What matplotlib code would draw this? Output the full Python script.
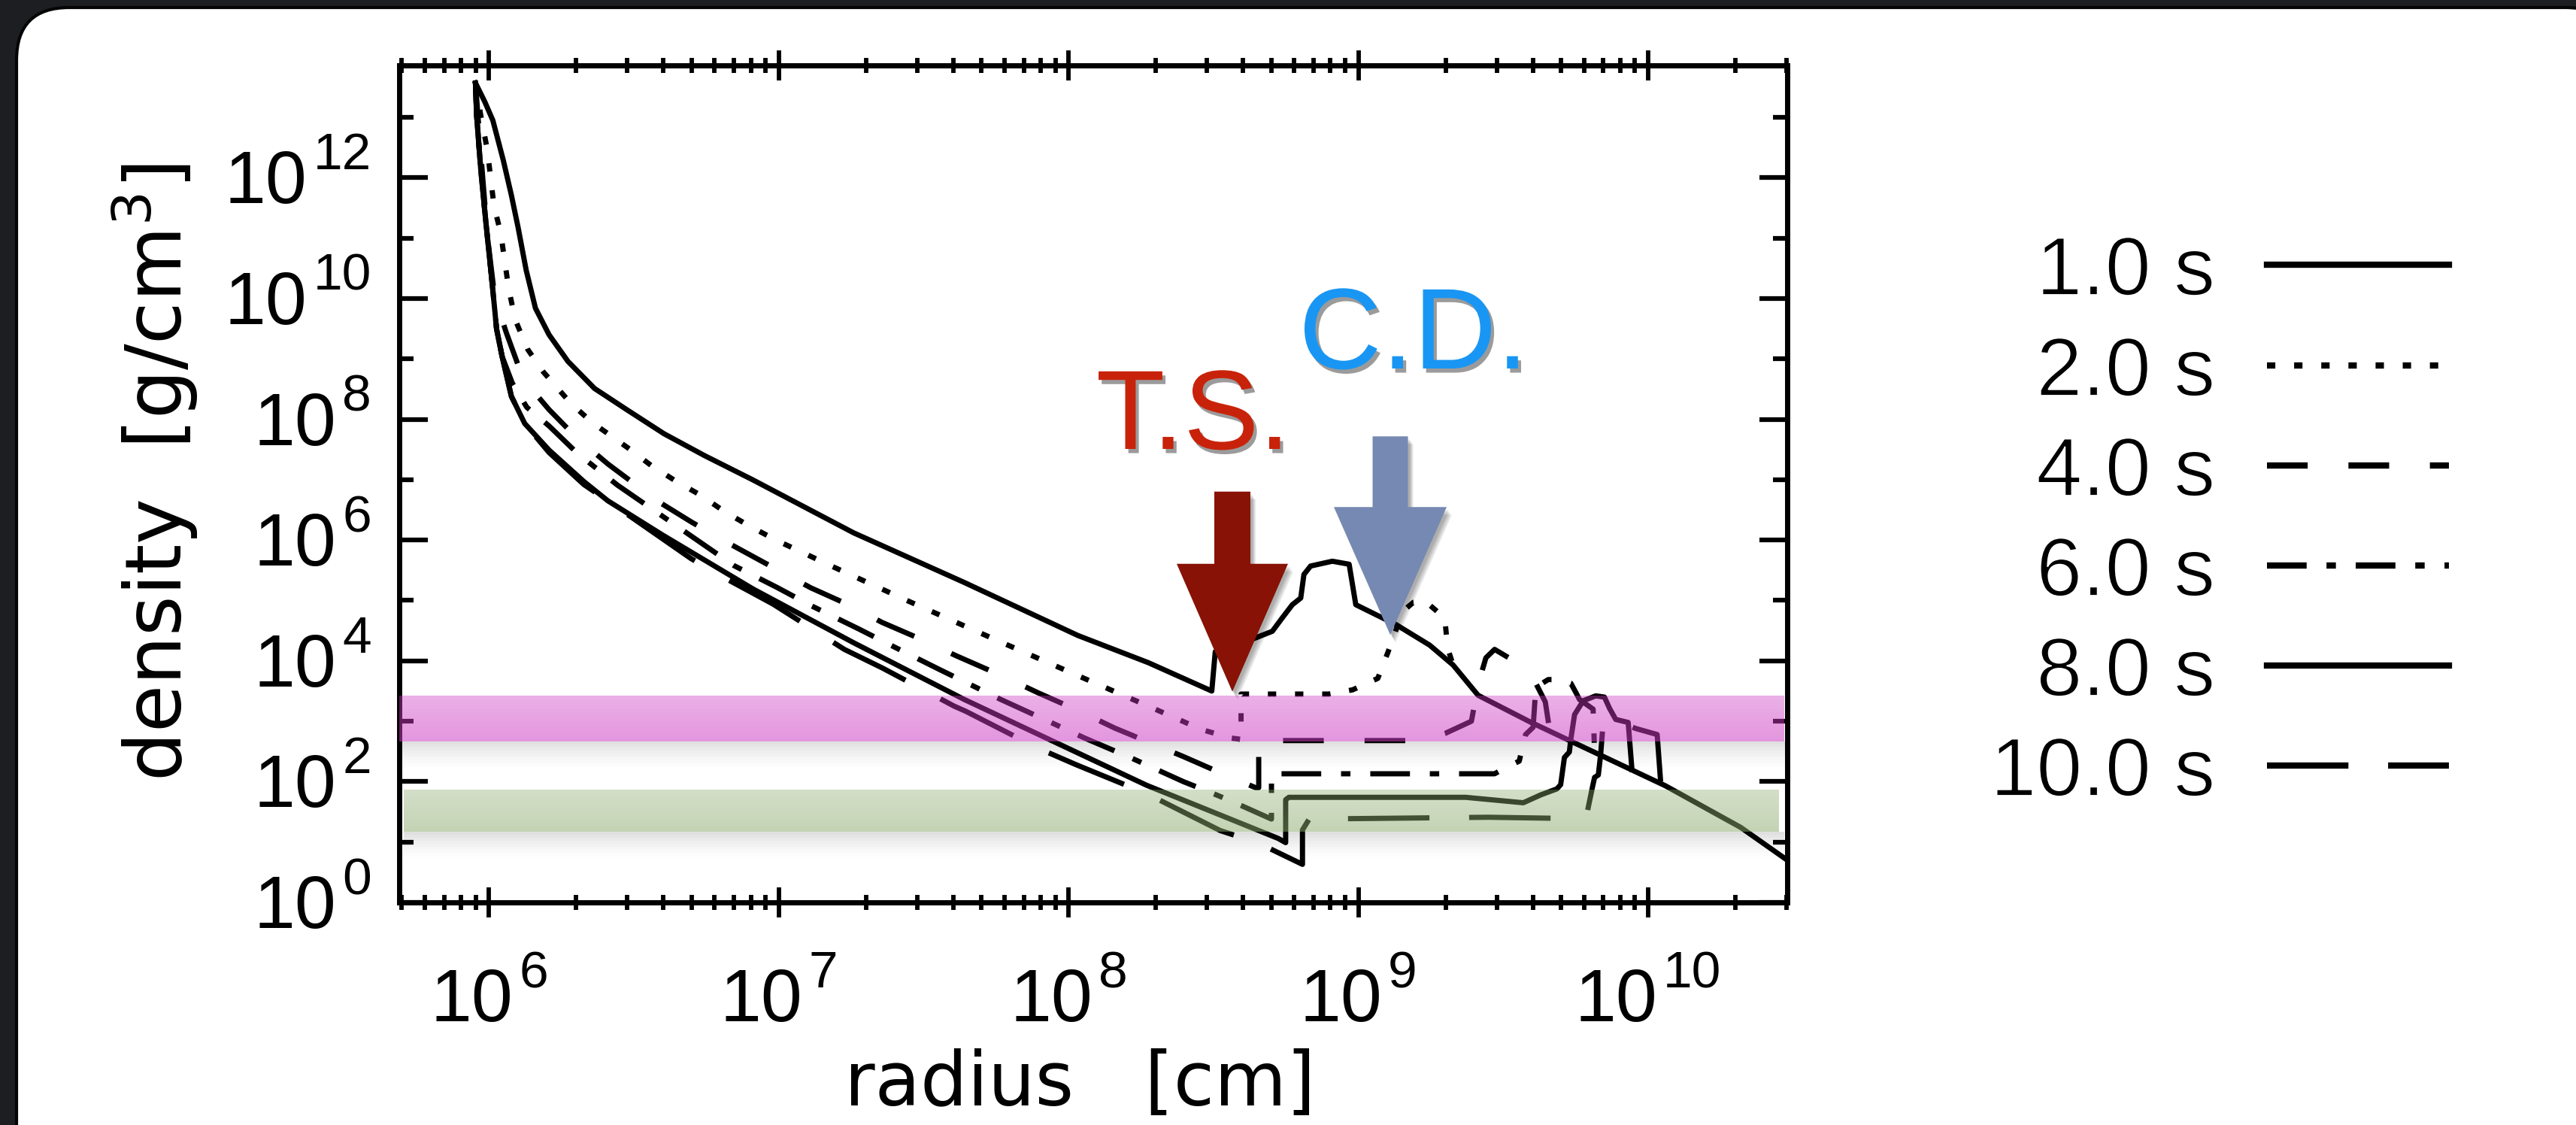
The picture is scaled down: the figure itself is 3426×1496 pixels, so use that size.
import numpy as np
import matplotlib
matplotlib.use("Agg")
import matplotlib.pyplot as plt
from matplotlib.patches import FancyBboxPatch, Polygon
from matplotlib.lines import Line2D
from matplotlib.transforms import IdentityTransform
from matplotlib.ticker import FixedLocator, LogLocator
import matplotlib.patheffects as pe

plt.rcParams['lines.scale_dashes'] = False

# ---- data: log10(radius [cm]) and log10(density [g/cm^3]) ----
t1_logr = [5.953, 5.985, 6.013, 6.049, 6.077, 6.100, 6.128, 6.160, 6.207, 6.272, 6.364, 6.475,
           6.604, 6.743, 6.909, 7.258, 7.639, 8.032, 8.275, 8.494, 8.506, 8.60, 8.645, 8.703,
           8.737, 8.772, 8.801, 8.812, 8.835, 8.910, 8.968, 8.991, 9.130, 9.246, 9.327, 9.413,
           9.592, 9.742, 10.06, 10.32, 10.48]
t1_logrho = [13.57, 13.26, 12.95, 12.29, 11.71, 11.18, 10.47, 9.84, 9.40, 8.96, 8.51, 8.16,
             7.76, 7.40, 7.00, 6.12, 5.30, 4.42, 3.97, 3.50, 4.15, 4.30, 4.38, 4.49,
             4.71, 4.93, 5.04, 5.43, 5.57, 5.65, 5.60, 4.93, 4.60, 4.26, 3.93, 3.43,
             2.99, 2.65, 1.93, 1.24, 0.70]

t2_logr = [5.953, 5.971, 5.994, 6.017, 6.040, 6.054, 6.068, 6.091, 6.133, 6.188, 6.281, 6.355,
           6.484, 6.558, 6.64, 6.731, 6.813, 6.896, 6.99, 7.177, 7.442, 7.743, 8.02, 8.275,
           8.46, 8.563, 8.595, 8.595, 8.898, 8.98, 9.067, 9.101, 9.153, 9.19, 9.23, 9.298,
           9.308, 9.327]
t2_logrho = [13.57, 13.04, 12.46, 11.53, 11.09, 10.62, 10.15, 9.64, 9.16, 8.78, 8.27, 7.95,
             7.51, 7.24, 6.99, 6.74, 6.47, 6.24, 6.00, 5.58, 5.00, 4.36, 3.78, 3.25,
             2.86, 2.72, 2.70, 3.45, 3.45, 3.52, 3.71, 4.13, 4.82, 4.97, 4.99, 4.71,
             4.21, 3.93]

t4_logr = [5.953, 5.962, 5.978, 5.995, 6.015, 6.035, 6.059, 6.10, 6.161, 6.207, 6.299, 6.41,
           6.58, 6.698, 6.822, 6.946, 7.11, 7.235, 7.356, 7.48, 7.614, 7.772, 7.895, 8.027,
           8.159, 8.396, 8.522, 8.645, 8.656, 8.656, 9.22, 9.30, 9.39, 9.415, 9.44, 9.47,
           9.586, 9.61, 9.645, 9.66]
t4_logrho = [13.57, 13.0, 12.0, 11.0, 10.2, 9.8, 9.44, 8.90, 8.42, 8.16, 7.71, 7.26,
             6.65, 6.30, 5.96, 5.636, 5.21, 4.94, 4.637, 4.38, 4.08, 3.748, 3.47, 3.19,
             2.887, 2.415, 2.15, 1.90, 1.90, 2.68, 2.68, 2.80, 3.00, 3.64, 4.05, 4.19,
             3.86, 3.65, 3.32, 2.85]

t6_logr = [5.953, 5.957, 5.971, 5.989, 6.008, 6.026, 6.045, 6.08, 6.13, 6.207, 6.304, 6.443,
           6.846, 6.992, 7.113, 7.275, 7.39, 7.553, 7.766, 7.93, 8.056, 8.217, 8.396, 8.48,
           8.56, 8.70, 8.70, 9.47, 9.50, 9.555, 9.577, 9.603, 9.61, 9.625, 9.655, 9.70,
           9.733, 9.75, 9.763, 9.81, 9.815]
t6_logrho = [13.57, 13.04, 12.15, 11.26, 10.38, 9.49, 9.04, 8.60, 8.20, 7.89, 7.44, 6.91,
             5.575, 5.22, 4.91, 4.53, 4.25, 3.86, 3.36, 3.00, 2.72, 2.39, 2.00, 1.84,
             1.68, 1.38, 2.13, 2.13, 2.21, 2.34, 2.78, 2.90, 3.40, 3.60, 3.69, 3.69,
             3.63, 3.48, 3.36, 3.20, 2.50]

t8_logr = [5.953, 5.957, 5.971, 5.989, 6.008, 6.026, 6.045, 6.077, 6.123, 6.207, 6.327, 6.41,
           6.60, 6.911, 7.258, 7.64, 8.269, 8.723, 8.749, 8.749, 8.76, 9.37, 9.569, 9.629,
           9.685, 9.698, 9.711, 9.728, 9.733, 9.746, 9.776, 9.819, 9.849, 9.867, 9.888, 9.931,
           9.944]
t8_logrho = [13.57, 13.04, 12.15, 11.26, 10.38, 9.49, 9.04, 8.38, 7.93, 7.49, 6.97, 6.65,
             6.08, 5.19, 4.30, 3.36, 1.94, 1.06, 0.99, 1.70, 1.74, 1.74, 1.65, 1.78,
             1.88, 1.95, 2.40, 2.49, 2.70, 3.11, 3.34, 3.42, 3.40, 3.21, 3.03, 2.98,
             2.20]

t10_logr = [5.953, 5.957, 5.971, 5.989, 6.008, 6.026, 6.045, 6.077, 6.123, 6.207, 6.327, 6.467,
            6.698, 6.822, 6.98, 7.226, 7.358, 7.605, 7.645, 7.894, 8.026, 8.27, 8.523, 8.656,
            8.807, 8.807, 8.83, 9.448, 9.72, 9.79, 9.806, 9.815, 9.828, 9.836, 9.84, 9.844,
            9.867, 9.888, 9.957, 10.031, 10.043]
t10_logrho = [13.57, 13.04, 12.15, 11.26, 10.38, 9.49, 9.04, 8.38, 7.93, 7.45, 6.92, 6.46,
              5.69, 5.35, 4.94, 4.19, 3.88, 3.25, 3.165, 2.555, 2.28, 1.80, 1.19, 0.98,
              0.63, 1.20, 1.38, 1.41, 1.39, 1.50, 1.87, 2.07, 2.11, 2.45, 2.69, 2.94,
              3.03, 3.01, 2.88, 2.78, 2.00]

labels = ['1.0 s', '2.0 s', '4.0 s', '6.0 s', '8.0 s', '10.0 s']
curves = [(t1_logr, t1_logrho), (t2_logr, t2_logrho), (t4_logr, t4_logrho),
          (t6_logr, t6_logrho), (t8_logr, t8_logrho), (t10_logr, t10_logrho)]
# IDL-like line styles (dash lengths in points)
styles = ['-', (0, (8, 18)), (0, (39, 39)), (0, (38, 19, 9, 19)), '-', (0, (78, 38))]

x_exps = [6, 7, 8, 9, 10]
y_exps = [0, 2, 4, 6, 8, 10, 12]

# shaded density bands and shock markers
MAG_BAND = (10**2.66, 10**3.42)
GRN_BAND = (10**1.17, 10**1.87)
TS_TIP = (10**8.565, 10**3.49)
CD_TIP = (10**9.110, 10**4.43)

W, H, DPI = 3426, 1496, 100
fig = plt.figure(figsize=(W / DPI, H / DPI), dpi=DPI)
fig.patch.set_facecolor('#1d1e21')
px = IdentityTransform()

# white slide card with rounded corners
card = FancyBboxPatch((22, -120), 3460, 1496 - 10 + 120,
                      boxstyle='round,pad=0,rounding_size=70',
                      fc='white', ec='#050505', lw=3, transform=px, zorder=-10)
fig.add_artist(card)

ax = fig.add_axes([531 / W, 296 / H, 1846 / W, 1113 / H])
ax.set_facecolor('none')
ax.set_xscale('log')
ax.set_yscale('log')
ax.set_xlim(10**5.69, 10**10.48)
ax.set_ylim(1.0, 10**13.86)

for (lr, ld), ls in zip(curves, styles):
    ax.plot(10**np.array(lr), 10**np.array(ld), color='k', lw=5.0, linestyle=ls,
            dash_capstyle='butt', solid_joinstyle='round', zorder=3)


def band(lo, hi, rgb, a_top, a_bot, x0, x1, n=14):
    e = np.linspace(np.log10(lo), np.log10(hi), n + 1)
    for i in range(n):
        a = a_bot + (a_top - a_bot) * (i + 0.5) / n
        ax.axhspan(10**e[i], 10**e[i + 1], xmin=x0, xmax=x1, color=rgb, alpha=a,
                   lw=0, antialiased=False, zorder=5)
    # soft drop shadow under the band
    s = np.linspace(np.log10(lo), np.log10(lo) - 0.45, 10)
    for i in range(9):
        ax.axhspan(10**s[i + 1], 10**s[i], xmin=x0, xmax=x1 + 0.004, color='k',
                   alpha=0.12 * (1 - i / 9.0) ** 1.5, lw=0, antialiased=False, zorder=4)


band(*MAG_BAND, (0.80, 0.23, 0.76), 0.40, 0.54, -0.003, 0.998)
band(*GRN_BAND, (0.55, 0.67, 0.43), 0.38, 0.52, 0.003, 0.994)

# axes frame and ticks (IDL look)
for s in ax.spines.values():
    s.set_linewidth(5)
ax.yaxis.set_major_locator(FixedLocator(10.0**np.arange(0, 14, 2)))
ax.yaxis.set_minor_locator(FixedLocator(10.0**np.arange(1, 14, 2)))
ax.xaxis.set_major_locator(LogLocator(base=10, numticks=20))
ax.xaxis.set_minor_locator(LogLocator(base=10, subs=np.arange(2, 10), numticks=20))
ax.tick_params(axis='y', which='major', direction='in', length=27, width=4.5,
               left=True, right=True, labelleft=False)
ax.tick_params(axis='y', which='minor', direction='in', length=14, width=4.5,
               left=True, right=True, labelleft=False)
ax.tick_params(axis='x', which='major', direction='inout', length=29, width=4.2,
               top=True, bottom=True, labelbottom=False)
ax.tick_params(axis='x', which='minor', direction='inout', length=15, width=4.2,
               top=True, bottom=True, labelbottom=False)

# tick labels: "10" with a raised exponent, IDL style
renderer = fig.canvas.get_renderer()
BASE_FS, SUP_FS, GAP, RAISE = 71, 50, 8, 45


def power_label(x, y, exp, align):
    b = fig.text(0, 0, '10', fontsize=BASE_FS, family='Liberation Sans',
                 ha='left', va='baseline', transform=px)
    s = fig.text(0, 0, str(exp), fontsize=SUP_FS, family='Liberation Sans',
                 ha='left', va='baseline', transform=px)
    wb = b.get_window_extent(renderer).width
    ws = s.get_window_extent(renderer).width
    total = wb + GAP + ws
    left = x - total / 2 if align == 'center' else x - total
    b.set_position((left, y))
    s.set_position((left + wb + GAP, y + RAISE))


ax_l, ax_b = ax.transAxes.transform((0, 0))
for e in x_exps:
    tx = ax.transData.transform((10.0**e, 1.0))[0]
    power_label(tx, ax_b - 158, e, 'center')
for e in y_exps:
    ty = ax.transData.transform((1e6, 10.0**e))[1]
    power_label(ax_l - 37, ty - 34, e, 'right')

fig.text(1436 / W, 26 / H, 'radius   [cm]', fontsize=71, family='DejaVu Sans',
         ha='center', va='baseline')
fig.text(206 / W, 868 / H, 'density  [g/cm$^3$]', fontsize=74, family='DejaVu Sans',
         rotation=90, ha='center', va='center')


def down_arrow(tip, color, shaft_hw, shaft_len, head_hw, head_len):
    tx, ty = ax.transData.transform(tip)
    pts = [(tx, ty), (tx - head_hw, ty + head_len), (tx - shaft_hw, ty + head_len),
           (tx - shaft_hw, ty + shaft_len), (tx + shaft_hw, ty + shaft_len),
           (tx + shaft_hw, ty + head_len), (tx + head_hw, ty + head_len)]
    shadow = [pe.SimplePatchShadow(offset=(2 + k, -3 - 1.5 * k), shadow_rgbFace='k',
                                   alpha=0.09) for k in range(4)]
    poly = Polygon(pts, closed=True, fc=color, ec='none', transform=px,
                   zorder=8, path_effects=shadow + [pe.Normal()])
    fig.add_artist(poly)


down_arrow(TS_TIP, '#871205', 24, 266, 74, 170)
down_arrow(CD_TIP, '#7689b2', 23.5, 264, 75, 170)

shadow_txt = [pe.withSimplePatchShadow(offset=(3, -4), shadow_rgbFace='#222222', alpha=0.45)]
fig.text(1587 / W, (H - 597) / H, 'T.S.', fontsize=108, family='Liberation Sans',
         color='#c8230a', ha='center', va='baseline', path_effects=shadow_txt, zorder=9)
fig.text(1880 / W, (H - 490) / H, 'C.D.', fontsize=110, family='Liberation Sans',
         color='#1996f3', ha='center', va='baseline', path_effects=shadow_txt, zorder=9)

# legend, drawn by hand at the right of the card (slightly thinned strokes)
thin = [pe.Normal(), pe.Stroke(linewidth=1.3, foreground='white')]
row_y = [352, 486, 619, 752, 885, 1018]
for lab, ls, yc in zip(labels, styles, row_y):
    fig.text(2946 / W, (H - yc - 40) / H, lab, fontsize=79, family='Liberation Sans',
             ha='right', va='baseline', path_effects=thin)
    fig.add_artist(Line2D([3015 / W, 3257 / W], [(H - yc) / H] * 2, color='k', lw=6,
                          linestyle=ls, dash_capstyle='butt', transform=fig.transFigure))

fig.savefig('out.png', dpi=DPI, facecolor=fig.get_facecolor())
